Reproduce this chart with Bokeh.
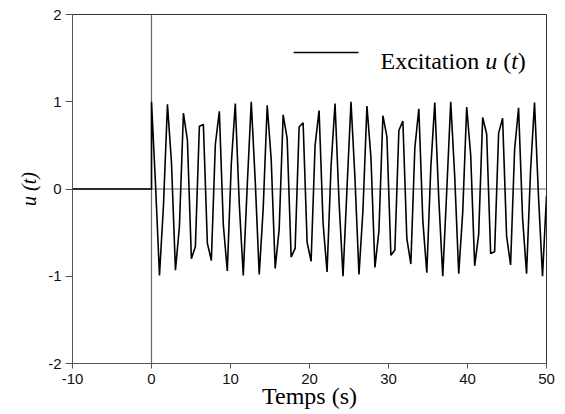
import numpy as np
from bokeh.plotting import figure
from bokeh.models import Label, Arrow, Span, Range1d, FixedTicker
from bokeh.embed import file_html
from bokeh.resources import INLINE

# ---- data -------------------------------------------------------------
t_before = [-10.0, 0.0]
u_before = [0.0, 0.0]

t_excit = np.linspace(0.0, 50.0, 100)
u_excit = [
    1.00, 0.06, -0.99, -0.19, 0.97, 0.31, -0.93, -0.43, 0.87, 0.56,
    -0.80, -0.66, 0.72, 0.74, -0.62, -0.82, 0.51, 0.89, -0.41, -0.94,
    0.29, 0.98, -0.17, -0.99, 0.04, 1.00, 0.09, -0.98, -0.22, 0.96,
    0.34, -0.91, -0.46, 0.85, 0.58, -0.78, -0.68, 0.71, 0.76, -0.61,
    -0.83, 0.50, 0.90, -0.39, -0.95, 0.26, 0.98, -0.14, -1.00, 0.01,
    1.00, 0.12, -0.98, -0.24, 0.95, 0.36, -0.90, -0.48, 0.84, 0.60,
    -0.76, -0.70, 0.67, 0.78, -0.57, -0.86, 0.47, 0.92, -0.36, -0.96,
    0.24, 0.99, -0.11, -1.00, -0.02, 1.00, 0.14, -0.97, -0.27, 0.94,
    0.39, -0.88, -0.52, 0.82, 0.63, -0.74, -0.72, 0.64, 0.81, -0.54,
    -0.87, 0.45, 0.93, -0.33, -0.97, 0.21, 0.99, -0.09, -1.00, -0.08,
]

x_ticks = [-10, 0, 10, 20, 30, 40, 50]
y_ticks = [-2, -1, 0, 1, 2]

x_title = "Temps (s)"
y_title = "u (t)"
# legend label split by style; None = a plain word space
legend_parts = [("Excitation", "normal"), (" ", None), ("u", "italic"),
                (" ", None), ("(", "normal"), ("t", "italic"), (")", "normal")]

# ---- figure -----------------------------------------------------------
p = figure(width=565, height=414, output_backend="svg", toolbar_location=None,
           x_range=Range1d(-10, 50), y_range=Range1d(-2, 2),
           min_border_left=72, min_border_right=19,
           min_border_top=14, min_border_bottom=51)

p.xgrid.visible = False
p.ygrid.visible = False
p.background_fill_color = "white"
p.border_fill_color = "white"
p.outline_line_color = "#333333"
p.outline_line_width = 1

for ax, ticks, tout in ((p.xaxis[0], x_ticks, 5), (p.yaxis[0], y_ticks, 7)):
    ax.ticker = FixedTicker(ticks=ticks, minor_ticks=[])
    # plain hyphen-minus, as in the reference
    ax.major_label_overrides = {v: str(v) for v in ticks}
    ax.major_tick_out = tout
    ax.major_tick_in = 0
    ax.minor_tick_out = 0
    ax.minor_tick_in = 0
    ax.axis_line_color = "#555555"
    ax.major_tick_line_color = "#555555"
    ax.major_label_text_font = "Liberation Sans"
    ax.major_label_text_font_size = "15px"
    ax.major_label_text_color = "#111111"
    ax.axis_label_text_font = "Liberation Serif"
    ax.axis_label_text_color = "black"

p.xaxis.major_label_standoff = 5
p.yaxis.major_label_standoff = 4

p.xaxis.axis_label = x_title
p.xaxis.axis_label_text_font_size = "24px"
p.xaxis.axis_label_text_font_style = "normal"
p.xaxis.axis_label_standoff = -4

p.yaxis.axis_label = y_title
p.yaxis.axis_label_text_font_size = "20px"
p.yaxis.axis_label_text_font_style = "italic"
p.yaxis.axis_label_standoff = 5

# zero lines
p.add_layout(Span(location=0, dimension="height", line_color="#666666",
                  line_width=1.2, level="underlay"))
p.add_layout(Span(location=0, dimension="width", line_color="#666666",
                  line_width=1.2, level="underlay"))

# signal
p.line(t_before + list(t_excit), u_before + u_excit,
       line_color="black", line_width=1.6)

# ---- legend (line sample + mixed-style label) ---------------------------
EM = {"E": .611, "x": .5, "c": .444, "i": .278, "t": .278, "a": .444, "o": .5,
      "n": .5, " ": .25, "u": .5, "(": .333, ")": .333}
LEG_SIZE = 24


def width(s, size):
    return sum(EM.get(ch, .5) for ch in s) * size


p.add_layout(Arrow(end=None, x_start=18.0, y_start=1.565, x_end=26.2, y_end=1.565,
                   line_color="black", line_width=1.5))

off = 0.0
for txt, style in legend_parts:
    if style is not None:
        p.add_layout(Label(x=308 + off, y=303, x_units="screen", y_units="screen",
                           text=txt, text_font="Liberation Serif",
                           text_font_style=style,
                           text_font_size=f"{LEG_SIZE}px", text_color="black",
                           text_align="left", text_baseline="alphabetic"))
    off += width(txt, LEG_SIZE)

open("out.html", "w").write(file_html(p, INLINE))
